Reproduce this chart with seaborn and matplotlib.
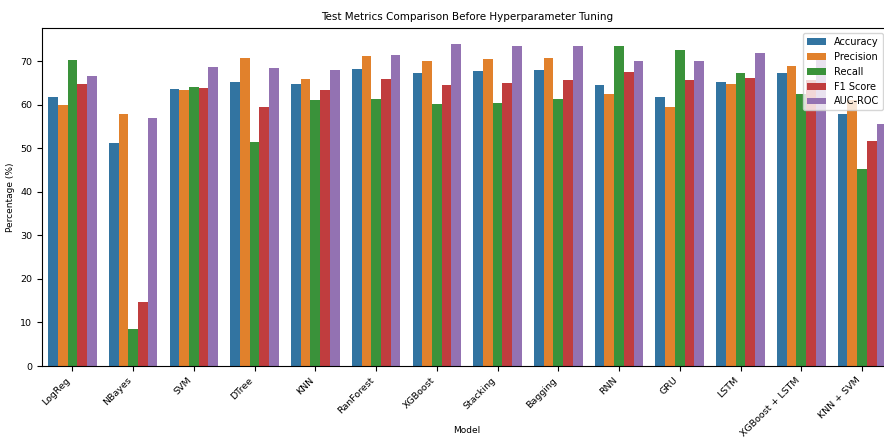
import pandas as pd
import matplotlib
matplotlib.use("Agg")
import matplotlib.pyplot as plt
import seaborn as sns

models = ["LogReg", "NBayes", "SVM", "DTree", "KNN", "RanForest", "XGBoost",
          "Stacking", "Bagging", "RNN", "GRU", "LSTM", "XGBoost + LSTM", "KNN + SVM"]
metrics = ["Accuracy", "Precision", "Recall", "F1 Score", "AUC-ROC"]

accuracy = [61.7, 51.2, 63.6, 65.2, 64.8, 68.3, 67.2, 67.7, 68.0, 64.6, 61.7, 65.3, 67.2, 58.0]
precision = [59.9, 57.8, 63.4, 70.7, 65.9, 71.1, 70.1, 70.6, 70.8, 62.4, 59.6, 64.8, 68.9, 61.0]
recall = [70.4, 8.5, 64.2, 51.5, 61.1, 61.4, 60.2, 60.4, 61.4, 73.4, 72.6, 67.4, 62.4, 45.3]
f1_score = [64.8, 14.8, 63.9, 59.6, 63.4, 65.9, 64.6, 65.1, 65.8, 67.5, 65.6, 66.1, 65.6, 51.8]
auc_roc = [66.6, 56.9, 68.6, 68.4, 67.9, 71.5, 73.9, 73.4, 73.6, 70.1, 70.1, 71.8, 72.0, 55.6]

# Build long-format table
wide = pd.DataFrame({"Model": models, "Accuracy": accuracy, "Precision": precision,
                     "Recall": recall, "F1 Score": f1_score, "AUC-ROC": auc_roc})
df = wide.melt(id_vars="Model", value_vars=metrics, var_name="Metric", value_name="Value")

fig = plt.figure(figsize=(8.84, 4.41), dpi=100)
# axes run slightly past the right edge, like the cropped reference
ax = fig.add_axes([0.0475, 0.170, 0.962, 0.766])

sns.barplot(data=df, x="Model", y="Value", hue="Metric", ax=ax)

ax.set_title("Test Metrics Comparison Before Hyperparameter Tuning", fontsize=7.5)
ax.set_xlabel("Model", fontsize=6.5, va="center")
ax.xaxis.set_label_coords(0.5, -0.19)
ax.set_ylabel("Percentage (%)", fontsize=6.5)
ax.tick_params(axis="both", labelsize=6.8)
plt.setp(ax.get_xticklabels(), rotation=45, ha="right")
ax.legend(loc="upper right", fontsize=7, bbox_to_anchor=(0.995, 1.0))

fig.savefig("out.png", dpi=100)
